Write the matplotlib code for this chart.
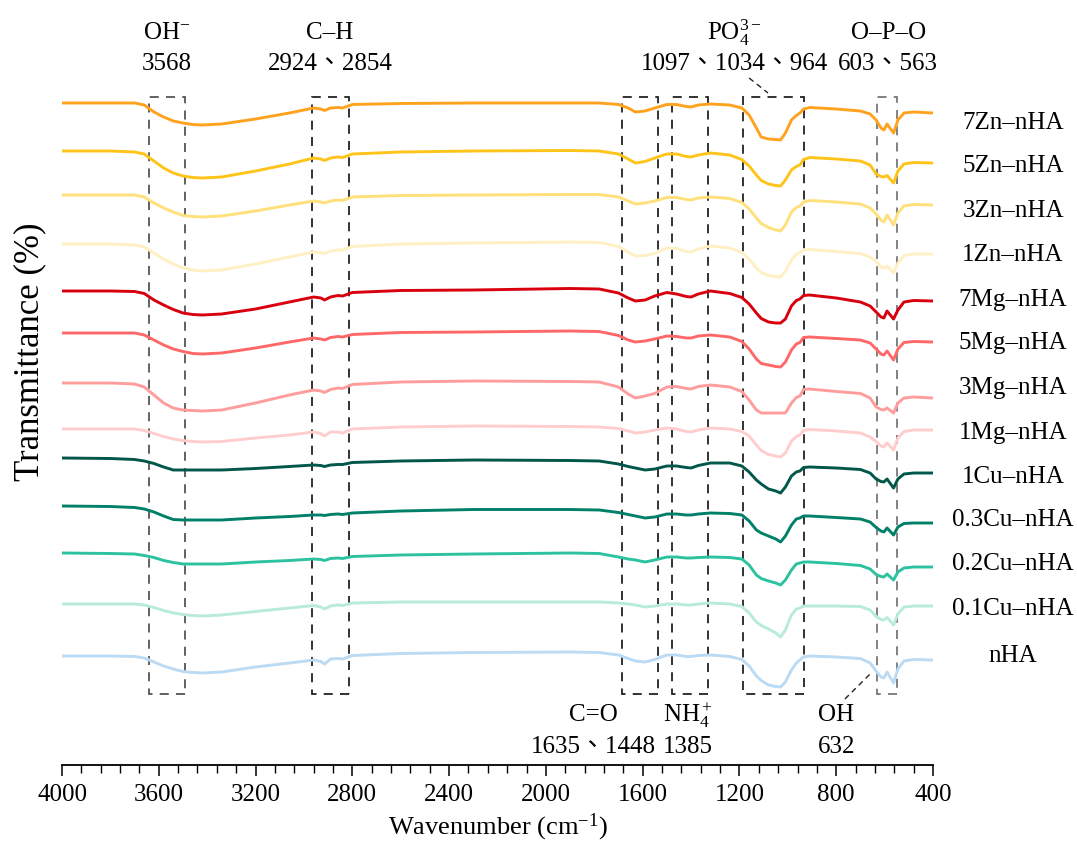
import matplotlib
matplotlib.use("Agg")
import matplotlib.pyplot as plt
from matplotlib.patches import Rectangle
from matplotlib.ticker import MultipleLocator

plt.rcParams["font.family"] = ["Liberation Serif", "Noto Sans CJK TC"]
plt.rcParams["mathtext.fontset"] = "custom"
plt.rcParams["mathtext.rm"] = "Liberation Serif"
plt.rcParams["mathtext.it"] = "Liberation Serif:italic"

# wavenumber grid (cm^-1) shared by all spectra
wavenumber = [4000, 3800, 3700, 3660, 3620, 3580, 3540, 3500, 3460, 3420, 3340, 3200, 3060,
              2960, 2930, 2915, 2890, 2860, 2840, 2800, 2600, 2300,
              1900, 1780, 1700, 1660, 1630, 1590, 1550, 1500, 1460, 1420, 1400, 1370, 1320,
              1240, 1190, 1160, 1130, 1110, 1080, 1050, 1030, 1010, 985, 965, 950, 935, 910,
              800, 700, 660, 635, 615, 603, 590, 563, 545, 520, 480, 400]

# relative transmittance (a.u., 0 = value at 4000 cm^-1)
zn7 = [0, 0, 0, -2, -9, -14, -18, -20, -21.5, -22, -21, -16, -10,
       -5, -6, -7.5, -5, -4.5, -5, -1.5, -0.5, 0,
       0, 0, -1.5, -5, -9, -8, -5, -1.5, -1.5, -3.5, -4, -2, -1,
       -2, -5, -12, -25, -34, -36, -36.5, -37, -30, -17, -12.5, -10, -6, -4.5,
       -6, -8, -11, -17, -25, -27, -21, -30, -17, -10, -9, -10]
zn5 = [0, 0, -1, -3, -10, -17, -22, -25, -26.5, -27, -26, -20, -13,
       -7, -8, -9.5, -7, -6, -6.5, -3, -1, 0,
       0.5, 0, -3, -8, -12, -10.5, -7, -3, -3, -5.5, -6, -4, -2,
       -4, -8.5, -15, -24, -29.5, -33, -34.5, -35, -29, -19, -15.5, -14, -8.5, -6.5,
       -8, -10, -14, -23, -25.5, -26, -24.5, -32, -20, -13, -11.5, -12]
zn3 = [0, 0, 0, -2, -8, -13, -17, -20.5, -21.5, -22, -21, -16, -10,
       -6, -7, -8, -6, -5, -5.5, -2, -0.5, 0,
       0.5, 0.5, -2, -6, -9, -8, -6, -2.5, -2.5, -4.5, -5, -3, -2,
       -3.5, -7.5, -14, -23, -28.5, -32.5, -35, -36, -30, -17, -12.5, -11, -7, -5.5,
       -7, -9, -13, -19, -25, -27, -20, -30, -18, -11, -9.5, -10]
zn1 = [0, 0, -1, -3, -9, -15, -20, -24, -26, -27, -26, -20, -13,
       -8, -8.5, -9.5, -7, -6, -6, -2.5, 0, 1,
       2, 1.5, -2.5, -8, -12, -11.5, -9.5, -4, -4.5, -7.5, -8, -5, -2,
       -4, -8.5, -15, -24, -28.5, -31.5, -32.5, -33, -27, -16, -10, -8.5, -6, -5.5,
       -7.5, -9.5, -13, -17.5, -23, -24, -22, -29, -19, -11.5, -10, -10]
mg7 = [0, 0, -0.5, -2.5, -9, -14, -18.5, -22, -23.5, -24, -23, -18, -11,
       -6, -7, -9, -6, -4.5, -5, -1.5, 0.5, 1,
       2.5, 2, -2, -7, -10, -9, -5, -1.5, -3, -5.5, -6, -3, 0,
       -2.5, -6.5, -13, -22, -27.5, -31, -32, -32, -28, -15, -9.5, -8, -4.5, -4,
       -7, -11, -15, -21, -26, -27, -20, -28, -19, -11, -9.5, -10]
mg5 = [0, 0, 0, -2, -7, -12, -16, -18.5, -20.5, -21, -20, -15, -9,
       -5, -6, -7, -4.5, -3.5, -4, -1.5, 0.5, 1,
       2, 1.5, -2.5, -7, -9, -8, -6, -3, -3.5, -5, -5, -3, -2,
       -4, -8.5, -16, -26, -30.5, -32, -33.5, -34, -29, -17, -11, -9.5, -4.5, -4,
       -5.5, -7, -10, -16, -21, -22, -18, -27, -16, -9.5, -8.5, -9]
mg3 = [0, 0, -1, -4, -12, -20, -25, -27, -27.5, -28, -27, -20, -12,
       -7, -8, -9.5, -6.5, -5, -5.5, -1.5, 1, 2,
       1.5, 1, -4, -11, -15, -13, -10.5, -4, -3.5, -5.5, -6, -3.5, -2,
       -4, -8.5, -17, -27, -30, -30, -30, -30, -30, -20, -14.5, -13, -6.5, -6,
       -8.5, -10.5, -15, -24, -26.5, -27, -25, -30, -20, -15, -14, -15]
mg1 = [0, 0, 0, -1.5, -4.5, -7.5, -10, -11.5, -12.5, -13, -12.5, -9, -6,
       -3, -4.5, -7, -3, -3, -4, 0, 2, 3,
       2.5, 2, 0.5, -2, -4, -3, -1, 1, 0, -2.5, -3, -1, 1,
       0, -2.5, -7, -16, -21.5, -25.5, -27, -28, -24, -12, -7.5, -6, -1.5, -0.5,
       -2, -4, -8, -12.5, -17, -18, -14, -21, -9, -2.5, -1, -1]
cu1 = [0, -0.5, -1.5, -3, -5.5, -9, -12, -12, -12, -12, -12, -10.5, -8.5,
       -7, -7.5, -8.5, -7, -6.5, -6.5, -4.5, -3, -2,
       -2.5, -3, -6, -8.5, -10, -12, -11, -8, -8, -9.5, -10, -7.5, -5,
       -5, -8, -14, -22, -26, -31, -33, -35, -29, -18, -14, -13, -9.5, -9,
       -10, -11.5, -15, -21, -23.5, -24, -21, -30, -21, -16, -15, -15]
cu03 = [0, -0.5, -1.5, -3, -6, -10, -13.5, -14, -14, -14, -14, -12, -10.5,
        -9, -9, -9.5, -8.5, -8, -8.5, -7, -5, -3.5,
        -3.5, -4, -6.5, -8.5, -10, -12, -11, -8, -8, -9, -9, -8, -7,
        -7.5, -9, -15, -24, -27, -30, -33, -36, -30, -19, -13, -12, -10, -10,
        -11.5, -13, -16, -21.5, -25, -26, -22, -29, -21, -17.5, -17, -17]
cu02 = [0, -0.5, -1, -2.5, -4.5, -7.5, -9.5, -11, -11, -11, -11, -9, -7.5,
        -6, -6.5, -7.5, -5.5, -5, -5.5, -3.5, -2, -1,
        0, -0.5, -4, -6, -7, -9, -7, -4, -4, -5, -5, -4.5, -4,
        -4.5, -6, -12, -22, -25.5, -28, -30, -32, -27, -17, -11, -10, -9, -9,
        -10.5, -12.5, -16, -21.5, -23.5, -24, -21, -27, -19, -15, -14, -14]
cu01 = [0, 0, 0, -1, -3.5, -6.5, -9, -10.5, -11.5, -12, -11, -7.5, -4,
        -1.5, -3, -5, -2, -1, -1.5, 1, 2, 2,
        2, 2, 1, 0, -1, -3, -2, 0, 0, -1, -1, 0, 1,
        0, -2.5, -9, -18, -21.5, -25, -29, -33, -26, -11, -5, -4, -2, -2,
        -2, -2.5, -6, -12.5, -15.5, -16, -13.5, -21, -10, -3, -2, -2]
nha = [0, 0, -0.5, -2, -6, -10, -13, -15.5, -16.5, -17, -16, -11, -7,
       -4, -5.5, -8, -3, -2.5, -3, 0.5, 2.5, 3.5,
       4, 3.5, 1, -2.5, -5, -6, -3.5, 1, 1, -0.5, -0.5, 0.5, 1,
       -0.5, -3.5, -10, -20, -24.5, -29, -30.5, -31, -26, -14, -7, -4, -1, 0,
       -1, -2.5, -7, -15, -21, -22, -16, -27, -13, -5, -3.5, -4]

samples = ["7Zn–nHA", "5Zn–nHA", "3Zn–nHA", "1Zn–nHA", "7Mg–nHA", "5Mg–nHA", "3Mg–nHA",
           "1Mg–nHA", "1Cu–nHA", "0.3Cu–nHA", "0.2Cu–nHA", "0.1Cu–nHA", "nHA"]
spectra = [zn7, zn5, zn3, zn1, mg7, mg5, mg3, mg1, cu1, cu03, cu02, cu01, nha]
colors = ["#FFA31F", "#FFC41A", "#FFE07A", "#FFF0C4", "#D9000E", "#FF6868", "#FF9C9C",
          "#FFCDCD", "#00574A", "#007F69", "#2DC29F", "#B8EBDA", "#BBDAF3"]

# vertical stacking of the spectra and of their names
offsets = [662, 614, 570, 521, 474, 432, 382, 336, 307, 259, 212, 161, 109]
name_y = [642, 599, 554, 510, 465, 422, 377, 332, 288, 245, 201, 156, 109]

fig = plt.figure(figsize=(10.77, 8.52), dpi=100)
ax = fig.add_axes([62 / 1077, 1 - 765 / 852, 871 / 1077, 765 / 852])
ax.set_xlim(4000, 400)
ax.set_ylim(0, 765)

for vals, off, c, name, ny in zip(spectra, offsets, colors, samples, name_y):
    ax.plot(wavenumber, [off + v for v in vals], color=c, lw=2.1,
            solid_joinstyle="round", solid_capstyle="round")
    ax.text(69, ny, name, fontsize=18, ha="center", va="center", clip_on=False)

# dashed frames round the assigned bands
boxes = [(3640, 3490, "#555555"), (2965, 2815, "#222222"), (1685, 1535, "#222222"),
         (1480, 1330, "#222222"), (1185, 935, "#222222"), (630, 548, "#777777")]
for hi, lo, ec in boxes:
    ax.add_patch(Rectangle((lo, 71), hi - lo, 597, fill=False, ec=ec, lw=1.3,
                           ls=(0, (5, 4))))

ax.plot([1160, 1082], [687, 672], color="#222222", lw=1.0, ls=(0, (4, 3)))
ax.plot([764, 660], [66, 91], color="#222222", lw=1.0, ls=(0, (4, 3)))

top = [(3566, "OH$^{-}$", "3568"), (2892, "C–H", "2924、2854"),
       (1220, "PO$_4^{3-}$", "1097、1034、964"), (585, "O–P–O", "603、563")]
for x, name, band in top:
    ax.text(x, 732, name, fontsize=18, ha="center", va="center", clip_on=False)
    ax.text(x, 701, band, fontsize=18, ha="center", va="center", clip_on=False)

bottom = [(1805, "C=O", "1635、1448"), (1413, "NH$_4^+$", "1385"), (800, "OH", "632")]
for x, name, band in bottom:
    ax.text(x, 50, name, fontsize=18, ha="center", va="center")
    ax.text(x, 18, band, fontsize=18, ha="center", va="center")

for side in ["left", "top", "right"]:
    ax.spines[side].set_visible(False)
ax.spines["bottom"].set_linewidth(1.3)
ax.set_yticks([])
ax.set_xticks(range(4000, 399, -400))
ax.xaxis.set_minor_locator(MultipleLocator(80))
ax.tick_params(axis="x", which="major", direction="out", length=8, width=1.1,
               labelsize=18, pad=6)
ax.tick_params(axis="x", which="minor", direction="out", length=6, width=1.0)
ax.set_xlabel("Wavenumber (cm$^{-1}$)", fontsize=19, labelpad=4)
fig.text(0.028, 1 - 352 / 852, "Transmittance (%)", fontsize=25, rotation=90,
         ha="center", va="center")

fig.savefig("out.png", dpi=100)
